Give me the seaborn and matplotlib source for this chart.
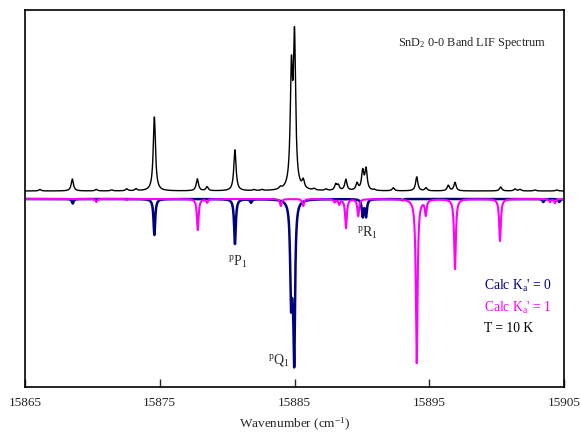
import numpy as np
import pandas as pd
import matplotlib
matplotlib.use("Agg")
import matplotlib.pyplot as plt
import seaborn as sns

# Experimental LIF spectrum: line centres (cm^-1) and relative intensities
exp_centers = [15866.11, 15868.51, 15870.29, 15871.43, 15872.55, 15873.24,
               15874.60, 15877.79, 15878.51, 15880.58, 15881.99, 15882.59,
               15883.95, 15884.77, 15885.00, 15885.65, 15886.45, 15887.34,
               15888.06, 15888.25, 15888.81, 15889.64, 15890.06, 15890.31,
               15890.92, 15892.33, 15894.07, 15894.76, 15896.41, 15896.91,
               15900.30, 15901.36, 15901.73, 15902.85, 15904.46]
exp_heights = [1.5, 12, 1.5, 1, 2, 2,
               74, 12, 4, 41, 1, 1,
               2, 112, 146, 8, 1.5, 1.5,
               6, 5, 11, 7, 19, 21,
               1, 3, 14, 3, 5.5, 8.5,
               4, 2, 1.5, 1, 1]

# Calculated transitions, K_a' = 0
calc0_centers = [15868.54, 15874.60, 15880.58, 15881.77, 15884.74, 15884.86,
                 15884.98, 15890.06, 15890.31, 15893.00, 15903.46, 15904.65]
calc0_heights = [4.5, 36, 45, 3.5, 88, 40, 149, 17, 17, 1.2, 3, 3]

# Calculated transitions, K_a' = 1
calc1_centers = [15870.29, 15872.55, 15877.82, 15878.51, 15883.98, 15885.65,
                 15887.98, 15888.32, 15888.82, 15889.73, 15894.07, 15894.74,
                 15896.91, 15900.25, 15903.96, 15904.33]
calc1_heights = [3, 1, 31, 3.5, 7, 7, 3, 5, 29, 17, 164, 15, 70, 42, 3, 4]

xticks = [15865, 15875, 15885, 15895, 15905]

EXP_WIDTH = 0.2     # FWHM, cm^-1
CALC_WIDTH = 0.15
CALC_OFFSET = -8.0  # baseline of the inverted calculated traces

grid = np.linspace(15865, 15905, 8001)


def lorentz_sum(centers, heights, fwhm):
    g = fwhm / 2.0
    out = np.zeros_like(grid)
    for c, h in zip(centers, heights):
        out += h * g**2 / ((grid - c) ** 2 + g**2)
    return out


exp_trace = lorentz_sum(exp_centers, exp_heights, EXP_WIDTH)
calc0_trace = CALC_OFFSET - lorentz_sum(calc0_centers, calc0_heights, CALC_WIDTH)
calc1_trace = CALC_OFFSET - lorentz_sum(calc1_centers, calc1_heights, CALC_WIDTH)

df = pd.concat([
    pd.DataFrame({"wn": grid, "I": exp_trace, "trace": "exp"}),
    pd.DataFrame({"wn": grid, "I": calc0_trace, "trace": "calc0"}),
    pd.DataFrame({"wn": grid, "I": calc1_trace, "trace": "calc1"}),
])

sns.set_style("ticks")
plt.rcParams["font.family"] = ["Liberation Serif", "DejaVu Serif"]
plt.rcParams["mathtext.fontset"] = "custom"
plt.rcParams["mathtext.rm"] = "Liberation Serif"
plt.rcParams["mathtext.it"] = "Liberation Serif:italic"

fig = plt.figure(figsize=(5.81, 4.33), dpi=100)
ax = fig.add_axes([25 / 581, 1 - 387 / 433, (564 - 25) / 581, (387 - 10) / 433])

sns.lineplot(data=df[df.trace == "calc0"], x="wn", y="I", color="#000080",
             lw=1.8, estimator=None, ax=ax)
sns.lineplot(data=df[df.trace == "calc1"], x="wn", y="I", color="#FF00FF",
             lw=1.5, estimator=None, ax=ax)
sns.lineplot(data=df[df.trace == "exp"], x="wn", y="I", color="black",
             lw=1.0, estimator=None, ax=ax)

ax.set_xlim(15865, 15905)
ax.set_ylim(-196, 181)
ax.set_xticks(xticks)
ax.set_xticklabels([str(t) for t in xticks])
ax.set_yticks([])
ax.tick_params(axis="x", direction="in", length=6, width=1, labelsize=9.5, pad=7)
ax.set_xlabel(r"Wavenumber (cm$^{-1}$)", fontsize=9.5, labelpad=5)
ax.set_ylabel("")
for s in ax.spines.values():
    s.set_visible(True)
    s.set_linewidth(1.2)
    s.set_color("black")

ax.text(15892.7, 148, r"SnD$_2$ 0-0 Band LIF Spectrum", fontsize=8.8,
        ha="left", va="center")
ax.text(15880.8, -71, r"$^{\mathrm{p}}$P$_1$", fontsize=10, ha="center", va="center")
ax.text(15883.85, -169, r"$^{\mathrm{p}}$Q$_1$", fontsize=10, ha="center", va="center")
ax.text(15890.45, -42, r"$^{\mathrm{p}}$R$_1$", fontsize=10, ha="center", va="center")

ax.text(15899.1, -95, r"Calc K$_\mathrm{a}$' = 0", color="#000080", fontsize=9.8,
        ha="left", va="center")
ax.text(15899.1, -117, r"Calc K$_\mathrm{a}$' = 1", color="#FF00FF", fontsize=9.8,
        ha="left", va="center")
ax.text(15899.1, -138, "T = 10 K", color="black", fontsize=9.8,
        ha="left", va="center")

fig.savefig("out.png", dpi=100, facecolor="white")
